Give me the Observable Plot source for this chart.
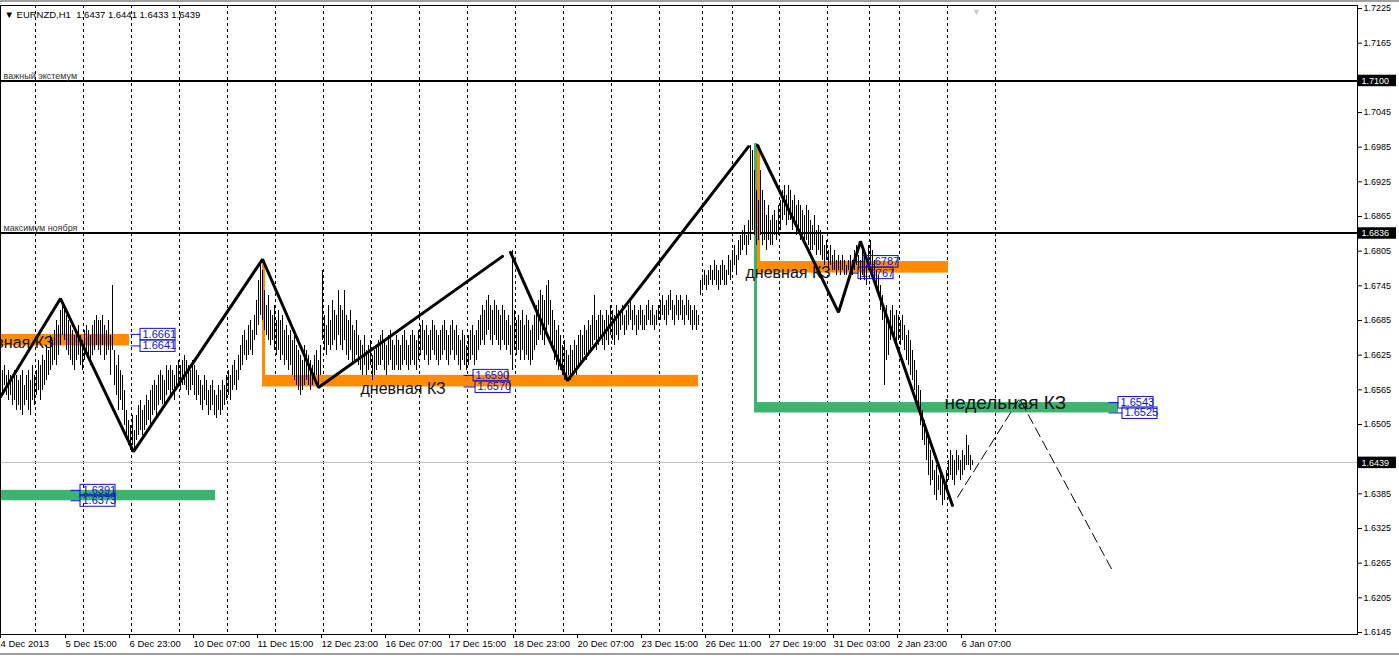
<!DOCTYPE html>
<html><head><meta charset="utf-8">
<script src="https://cdn.jsdelivr.net/npm/d3@7"></script>
<script src="https://cdn.jsdelivr.net/npm/@observablehq/plot@0.6"></script>
<style>
html,body{margin:0;padding:0;background:#fff;overflow:hidden}
#chart{position:relative;width:1399px;height:656px}
#chart svg line{shape-rendering:crispEdges}
.chrome{position:absolute;left:0;width:1399px;background:#a0a0a0}
</style></head><body><div id="chart"></div>
<script>
// ---- OHLC bars (H1), bar index 0 = first visible bar ----
const highs = [
1.6607,1.6598,1.6607,1.6590,1.6598,1.6590,1.6581,1.6598,1.6590,1.6581,
1.6590,1.6598,1.6573,1.6590,1.6598,1.6581,1.6607,1.6590,1.6598,1.6616,
1.6607,1.6624,1.6616,1.6642,1.6633,1.6659,1.6650,1.6668,1.6685,1.6676,
1.6702,1.6720,1.6711,1.6694,1.6685,1.6676,1.6668,1.6659,1.6668,1.6676,
1.6659,1.6650,1.6668,1.6676,1.6668,1.6659,1.6676,1.6685,1.6694,1.6685,
1.6685,1.6694,1.6676,1.6668,1.6685,1.6659,1.6746,1.6633,1.6607,1.6624,
1.6598,1.6590,1.6564,1.6529,1.6512,1.6503,1.6521,1.6495,1.6521,1.6538,
1.6547,1.6529,1.6538,1.6555,1.6547,1.6564,1.6573,1.6581,1.6573,1.6590,
1.6598,1.6590,1.6581,1.6607,1.6598,1.6607,1.6598,1.6590,1.6607,1.6616,
1.6607,1.6616,1.6624,1.6616,1.6607,1.6598,1.6616,1.6607,1.6598,1.6590,
1.6581,1.6573,1.6590,1.6581,1.6564,1.6573,1.6581,1.6564,1.6555,1.6573,
1.6564,1.6581,1.6573,1.6590,1.6598,1.6590,1.6607,1.6616,1.6598,1.6624,
1.6642,1.6659,1.6668,1.6650,1.6676,1.6685,1.6668,1.6694,1.6720,1.6754,
1.6789,1.6772,1.6737,1.6711,1.6728,1.6702,1.6694,1.6711,1.6685,1.6702,
1.6685,1.6694,1.6668,1.6676,1.6659,1.6668,1.6650,1.6659,1.6642,1.6633,
1.6624,1.6616,1.6642,1.6633,1.6624,1.6616,1.6607,1.6624,1.6633,1.6616,
1.6642,1.6772,1.6694,1.6676,1.6711,1.6685,1.6720,1.6702,1.6694,1.6737,
1.6711,1.6702,1.6737,1.6694,1.6685,1.6702,1.6676,1.6668,1.6685,1.6659,
1.6650,1.6642,1.6659,1.6633,1.6642,1.6650,1.6624,1.6633,1.6642,1.6650,
1.6659,1.6668,1.6650,1.6642,1.6659,1.6668,1.6650,1.6642,1.6659,1.6650,
1.6642,1.6659,1.6668,1.6650,1.6642,1.6659,1.6668,1.6659,1.6650,1.6668,
1.6676,1.6685,1.6668,1.6676,1.6659,1.6668,1.6685,1.6676,1.6668,1.6659,
1.6668,1.6676,1.6685,1.6668,1.6659,1.6676,1.6685,1.6668,1.6676,1.6659,
1.6650,1.6668,1.6659,1.6642,1.6659,1.6668,1.6676,1.6659,1.6668,1.6685,
1.6694,1.6711,1.6702,1.6720,1.6728,1.6711,1.6702,1.6720,1.6711,1.6702,
1.6694,1.6711,1.6702,1.6685,1.6694,1.6676,1.6806,1.6702,1.6685,1.6694,
1.6685,1.6702,1.6676,1.6694,1.6685,1.6668,1.6676,1.6694,1.6711,1.6720,
1.6737,1.6728,1.6720,1.6746,1.6754,1.6720,1.6702,1.6685,1.6668,1.6676,
1.6659,1.6642,1.6650,1.6633,1.6624,1.6642,1.6633,1.6650,1.6642,1.6659,
1.6668,1.6659,1.6676,1.6668,1.6685,1.6676,1.6694,1.6728,1.6685,1.6694,
1.6702,1.6694,1.6685,1.6702,1.6694,1.6711,1.6702,1.6694,1.6711,1.6702,
1.6702,1.6711,1.6694,1.6702,1.6711,1.6720,1.6702,1.6711,1.6694,1.6702,
1.6711,1.6702,1.6694,1.6711,1.6720,1.6702,1.6711,1.6694,1.6702,1.6711,
1.6720,1.6728,1.6711,1.6720,1.6728,1.6737,1.6720,1.6711,1.6728,1.6720,
1.6728,1.6720,1.6711,1.6728,1.6720,1.6711,1.6702,1.6711,1.6702,1.6694,
1.6754,1.6763,1.6772,1.6763,1.6772,1.6780,1.6772,1.6789,1.6780,1.6772,
1.6780,1.6789,1.6780,1.6772,1.6797,1.6789,1.6806,1.6815,1.6797,1.6823,
1.6832,1.6841,1.6849,1.6832,1.6858,1.6988,1.6979,1.6945,1.6910,1.6893,
1.6945,1.6910,1.6893,1.6867,1.6884,1.6858,1.6867,1.6875,1.6858,1.6884,
1.6893,1.6910,1.6919,1.6901,1.6919,1.6910,1.6893,1.6901,1.6884,1.6893,
1.6884,1.6875,1.6867,1.6884,1.6875,1.6858,1.6849,1.6867,1.6841,1.6849,
1.6841,1.6832,1.6815,1.6823,1.6806,1.6815,1.6797,1.6806,1.6789,1.6797,
1.6789,1.6797,1.6789,1.6780,1.6789,1.6797,1.6789,1.6806,1.6815,1.6797,
1.6789,1.6806,1.6797,1.6780,1.6815,1.6823,1.6806,1.6789,1.6772,1.6763,
1.6746,1.6728,1.6702,1.6711,1.6685,1.6702,1.6711,1.6694,1.6702,1.6694,
1.6685,1.6694,1.6676,1.6659,1.6668,1.6650,1.6633,1.6616,1.6598,1.6573,
1.6564,1.6529,1.6512,1.6495,1.6477,1.6460,1.6443,1.6425,1.6434,1.6417,
1.6425,1.6417,1.6408,
1.6425,1.6443,1.6460,1.6451,1.6443,1.6460,1.6451,1.6443,1.6460,1.6451,1.6486,1.6469,1.6451,1.6443
];
const lows = [
1.6564,1.6555,1.6573,1.6555,1.6547,1.6555,1.6538,1.6547,1.6529,1.6538,
1.6529,1.6521,1.6538,1.6547,1.6529,1.6521,1.6547,1.6538,1.6555,1.6564,
1.6547,1.6564,1.6573,1.6581,1.6590,1.6598,1.6607,1.6616,1.6607,1.6624,
1.6642,1.6659,1.6650,1.6633,1.6624,1.6616,1.6607,1.6598,1.6616,1.6624,
1.6607,1.6598,1.6616,1.6624,1.6616,1.6607,1.6624,1.6633,1.6642,1.6633,
1.6624,1.6642,1.6616,1.6624,1.6633,1.6590,1.6633,1.6573,1.6555,1.6529,
1.6547,1.6529,1.6503,1.6477,1.6469,1.6460,1.6469,1.6460,1.6477,1.6486,
1.6495,1.6486,1.6495,1.6503,1.6512,1.6503,1.6521,1.6529,1.6521,1.6538,
1.6547,1.6540,1.6538,1.6555,1.6564,1.6555,1.6564,1.6547,1.6564,1.6573,
1.6564,1.6573,1.6573,1.6564,1.6555,1.6564,1.6573,1.6555,1.6547,1.6555,
1.6538,1.6529,1.6547,1.6538,1.6521,1.6529,1.6538,1.6521,1.6516,1.6529,
1.6521,1.6529,1.6538,1.6547,1.6555,1.6547,1.6564,1.6573,1.6564,1.6581,
1.6598,1.6607,1.6624,1.6616,1.6624,1.6633,1.6624,1.6650,1.6659,1.6676,
1.6694,1.6685,1.6668,1.6659,1.6650,1.6642,1.6650,1.6633,1.6624,1.6633,
1.6616,1.6624,1.6607,1.6616,1.6598,1.6607,1.6590,1.6581,1.6573,1.6564,
1.6555,1.6564,1.6573,1.6581,1.6573,1.6564,1.6573,1.6581,1.6590,1.6573,
1.6590,1.6650,1.6633,1.6624,1.6642,1.6633,1.6642,1.6650,1.6633,1.6659,
1.6642,1.6633,1.6650,1.6624,1.6616,1.6633,1.6607,1.6616,1.6624,1.6607,
1.6598,1.6590,1.6607,1.6590,1.6598,1.6607,1.6581,1.6590,1.6598,1.6607,
1.6607,1.6616,1.6598,1.6590,1.6607,1.6616,1.6598,1.6598,1.6607,1.6598,
1.6598,1.6607,1.6616,1.6607,1.6598,1.6607,1.6616,1.6607,1.6598,1.6616,
1.6624,1.6633,1.6616,1.6624,1.6607,1.6616,1.6633,1.6624,1.6616,1.6607,
1.6616,1.6624,1.6633,1.6616,1.6607,1.6624,1.6633,1.6616,1.6624,1.6607,
1.6598,1.6616,1.6607,1.6598,1.6607,1.6616,1.6624,1.6607,1.6616,1.6633,
1.6642,1.6650,1.6642,1.6659,1.6668,1.6650,1.6642,1.6659,1.6650,1.6642,
1.6633,1.6650,1.6642,1.6633,1.6642,1.6624,1.6598,1.6633,1.6624,1.6633,
1.6616,1.6633,1.6616,1.6624,1.6616,1.6607,1.6616,1.6633,1.6642,1.6650,
1.6659,1.6650,1.6642,1.6668,1.6676,1.6650,1.6633,1.6616,1.6607,1.6598,
1.6598,1.6590,1.6581,1.6581,1.6590,1.6581,1.6590,1.6598,1.6590,1.6607,
1.6607,1.6616,1.6624,1.6616,1.6624,1.6633,1.6642,1.6650,1.6633,1.6642,
1.6650,1.6642,1.6633,1.6650,1.6642,1.6659,1.6650,1.6642,1.6659,1.6650,
1.6668,1.6676,1.6659,1.6668,1.6676,1.6685,1.6668,1.6676,1.6659,1.6668,
1.6676,1.6668,1.6668,1.6676,1.6685,1.6676,1.6676,1.6668,1.6676,1.6685,
1.6685,1.6694,1.6685,1.6676,1.6694,1.6702,1.6685,1.6676,1.6694,1.6685,
1.6694,1.6685,1.6676,1.6694,1.6685,1.6676,1.6668,1.6676,1.6668,1.6676,
1.6728,1.6737,1.6746,1.6737,1.6746,1.6754,1.6746,1.6754,1.6746,1.6737,
1.6746,1.6754,1.6746,1.6746,1.6763,1.6754,1.6772,1.6780,1.6763,1.6789,
1.6797,1.6806,1.6815,1.6797,1.6815,1.6823,1.6841,1.6832,1.6815,1.6823,
1.6832,1.6815,1.6823,1.6806,1.6823,1.6815,1.6815,1.6832,1.6823,1.6832,
1.6841,1.6858,1.6867,1.6849,1.6858,1.6858,1.6841,1.6849,1.6832,1.6841,
1.6823,1.6832,1.6815,1.6823,1.6815,1.6806,1.6806,1.6815,1.6797,1.6806,
1.6797,1.6789,1.6780,1.6789,1.6772,1.6780,1.6772,1.6772,1.6763,1.6772,
1.6763,1.6772,1.6763,1.6763,1.6772,1.6772,1.6763,1.6772,1.6780,1.6772,
1.6754,1.6763,1.6754,1.6746,1.6772,1.6780,1.6763,1.6746,1.6737,1.6728,
1.6702,1.6685,1.6573,1.6616,1.6624,1.6650,1.6659,1.6650,1.6642,1.6650,
1.6642,1.6650,1.6633,1.6616,1.6607,1.6590,1.6581,1.6564,1.6547,1.6529,
1.6503,1.6477,1.6469,1.6443,1.6417,1.6399,1.6408,1.6382,1.6373,1.6391,
1.6382,1.6365,1.6373,
1.6391,1.6408,1.6417,1.6408,1.6399,1.6417,1.6425,1.6408,1.6417,1.6425,1.6434,1.6434,1.6425,1.6434
];

// ---- time axis (bar index -> label) ----
const tickIdx    = [0, 32.5, 64.5, 96.5, 128.5, 160.5, 192.5, 224.5, 256.5, 288.5, 320.5, 352.5, 384.5, 416.5, 448.5, 480.5];
const tickLabels = ["4 Dec 2013","5 Dec 15:00","6 Dec 23:00","10 Dec 07:00","11 Dec 15:00","12 Dec 23:00","16 Dec 07:00","17 Dec 15:00","18 Dec 23:00","20 Dec 07:00","23 Dec 15:00","26 Dec 11:00","27 Dec 19:00","31 Dec 03:00","2 Jan 23:00","6 Jan 07:00"];
// day separators (bar index)
const daySep = [17.5, 41.5, 65.5, 89.5, 113.5, 137.5, 161.5, 185.5, 209.5, 233.5, 257.5, 281.5, 305.5, 329.5, 351, 366, 389.5, 413.5, 434.5, 449.5, 473.5, 497.5];

// ---- price axis ----
const yTicks = [1.7225,1.7165,1.7105,1.7045,1.6985,1.6925,1.6865,1.6805,1.6745,1.6685,1.6625,1.6565,1.6505,1.6445,1.6385,1.6325,1.6265,1.6205,1.6145];
const yTicksCovered = [1.7105, 1.6445];   // hidden behind the marked-price boxes
const levelPrices = [1.7100, 1.6836];
const levelNames  = ["важный экстемум", "максимум ноября"];
const bidPrice = 1.6439;
const markedPrices = [1.7100, 1.6836, 1.6439];

// ---- zones (rectangles) ----
const zoneStart = [0, 131, 378.5, 0, 377];
const zoneEnd   = [64.5, 349, 474, 107.5, 559];
const zoneTop   = [1.6661, 1.6590, 1.6787, 1.6391, 1.6543];
const zoneBot   = [1.6641, 1.6570, 1.6767, 1.6373, 1.6525];
const zoneColor = ["#FF8C00", "#FF8C00", "#FF8C00", "#3CB371", "#3CB371"];
// vertical zone stems
const stemIdx   = [131.5, 377.5, 379];
const stemTop   = [1.6789, 1.6991, 1.6988];
const stemBot   = [1.6570, 1.6525, 1.6767];
const stemColor = ["#FF8C00", "#3CB371", "#FF8C00"];

// ---- price labels (blue tags) ----
const tagPrice = [1.6661, 1.6641, 1.6590, 1.6570, 1.6787, 1.6767, 1.6391, 1.6373, 1.6543, 1.6525];
const tagFrom  = [65, 65, 231.5, 231.5, 426, 426, 35, 35, 554, 554];
const tagAt    = [70, 70, 236.5, 237.5, 431.5, 429, 40, 40, 559, 561];

// ---- zone captions ----
const capText  = ["дневная КЗ", "дневная КЗ", "дневная КЗ", "недельная КЗ"];
const capIdx   = [26.5, 180, 372.5, 472];
const capPrice = [1.6647, 1.6567, 1.6768, 1.6543];
const capEndAnchored = [true, false, false, false];
const capSize  = [16, 16, 16, 19];

// ---- zigzag swings ----
const zigIdx   = [0, 30, 66.5, 131, 159, 251,   255, 283.5, 374,   378.5, 419, 430, 476];
const zigPrice = [1.6553, 1.6723, 1.6458, 1.6791, 1.6569, 1.6796,   1.6803, 1.6581, 1.6986,   1.6988, 1.6699, 1.6822, 1.6365];
const zigSeg   = [0,0,0,0,0,0, 1,1,1, 2,2,2,2];
// projected path (dashed)
const projIdx   = [478.5, 509.5, 556];
const projPrice = [1.6379, 1.6550, 1.6252];

const shiftBar = 488;
const title = "▼ EURNZD,H1\u00a0\u00a01.6437 1.6441 1.6433 1.6439";

// ---------------- build ----------------
const PY = 0.108 / 624;   // price per pixel
const PX = 0.5;           // bar index per pixel
const bars = highs.map((h, i) => ({i, h, l: lows[i]}));
const zones = zoneStart.map((s, k) => ({s, e: zoneEnd[k], t: zoneTop[k], b: zoneBot[k], c: zoneColor[k]}));
const stems = stemIdx.map((x, k) => ({x, t: stemTop[k], b: stemBot[k], c: stemColor[k]}));
const tags = tagPrice.map((p, k) => ({p, f: tagFrom[k], a: tagAt[k]}));
const caps = capText.map((t, k) => ({t, x: capIdx[k], p: capPrice[k], e: capEndAnchored[k], s: capSize[k]}));
const zig = zigIdx.map((x, k) => ({x, p: zigPrice[k], z: zigSeg[k]}));
const proj = projIdx.map((x, k) => ({x, p: projPrice[k]}));
const labelOf = new Map(tickIdx.map((d, k) => [d, tickLabels[k]]));
const levels = levelPrices.map((p, k) => ({p, n: levelNames[k]}));
const FONT = "Liberation Sans, Arial, sans-serif";
const BLUE = "#1010c8";

const chart = Plot.plot({
  width: 1399, height: 656,
  marginLeft: 0, marginRight: 42, marginTop: 5, marginBottom: 22,
  x: {domain: [0, 678.5], range: [0, 1357]},
  y: {domain: [1.6145, 1.7225], range: [632, 8]},
  style: {fontFamily: FONT, fontSize: "9px", background: "white", color: "black", overflow: "visible"},
  marks: [
    Plot.ruleX(daySep, {stroke: "black", strokeWidth: 1, strokeDasharray: "3,3"}),
    Plot.ruleY([bidPrice], {stroke: "#c0c0c0", strokeWidth: 1}),
    Plot.ruleY(levelPrices, {stroke: "black", strokeWidth: 2}),
    Plot.text(levels, {x: () => 1.5, y: "p", text: "n", textAnchor: "start", lineAnchor: "bottom", dy: -2, fontSize: 9, fill: "#333", fontFamily: FONT}),
    Plot.rect(zones, {x1: "s", x2: "e", y1: "b", y2: "t", fill: "c"}),
    Plot.ruleX(stems, {x: "x", y1: "b", y2: "t", stroke: "c", strokeWidth: 3}),
    Plot.ruleX(bars, {x: "i", y1: "l", y2: "h", stroke: "black", strokeWidth: 1}),
    Plot.line(zig, {x: "x", y: "p", z: "z", stroke: "black", strokeWidth: 3, strokeLinejoin: "miter"}),
    Plot.line(proj, {x: "x", y: "p", stroke: "black", strokeWidth: 1, strokeDasharray: "10,5"}),
    Plot.text(caps.filter(d => d.e), {x: "x", y: "p", text: "t", textAnchor: "end", fontSize: "s", fill: "#111", fontFamily: FONT}),
    Plot.text(caps.filter(d => !d.e), {x: "x", y: "p", text: "t", textAnchor: "start", fontSize: "s", fill: "#111", fontFamily: FONT}),
    // blue price tags
    Plot.link(tags, {x1: "f", x2: "a", y1: "p", y2: "p", stroke: BLUE, strokeWidth: 1}),
    Plot.rect(tags, {x1: "a", x2: d => d.a + 35 * PX, y1: d => d.p - 6 * PY, y2: d => d.p + 5.5 * PY, fill: "none", stroke: BLUE, strokeWidth: 1}),
    Plot.text(tags, {x: d => d.a + 2 * PX, y: "p", text: d => d.p.toFixed(4), textAnchor: "start", fontSize: 11, fill: BLUE, fontFamily: FONT}),
    Plot.frame({stroke: "black", strokeWidth: 1}),
    Plot.axisX(tickIdx, {anchor: "bottom", tickSize: 4, tickPadding: 2, textAnchor: "start", tickFormat: d => labelOf.get(d), fontSize: 9.5, label: null}),
    Plot.axisY(yTicks, {anchor: "right", tickSize: 4, tickPadding: 2, tickFormat: d => yTicksCovered.includes(d) ? "" : d.toFixed(4), fontSize: 9, label: null}),
    // highlighted prices on the scale
    Plot.rect(markedPrices, {x1: () => 679, x2: () => 698, y1: d => d - 6 * PY, y2: d => d + 5.5 * PY, fill: "black"}),
    Plot.text(markedPrices, {x: () => 680.5, y: d => d, text: d => d.toFixed(4), textAnchor: "start", fill: "white", fontSize: 9, fontFamily: FONT}),
    Plot.text([title], {frameAnchor: "top-left", dx: 4, dy: 9, lineAnchor: "middle", text: d => d, fontSize: 9.5, fill: "black", fontFamily: FONT}),
    Plot.text([shiftBar], {x: d => d, frameAnchor: "top", dy: 3, text: () => "▼", fill: "#c8c8c8", fontSize: 9})
  ]
});
const host = document.getElementById("chart");
host.appendChild(chart);
const chromeTop = document.createElement("div"); chromeTop.className = "chrome"; chromeTop.style.top = "0px"; chromeTop.style.height = "2px";
const chromeBot = document.createElement("div"); chromeBot.className = "chrome"; chromeBot.style.top = "653px"; chromeBot.style.height = "2px";
host.append(chromeTop, chromeBot);
</script>
</body></html>
